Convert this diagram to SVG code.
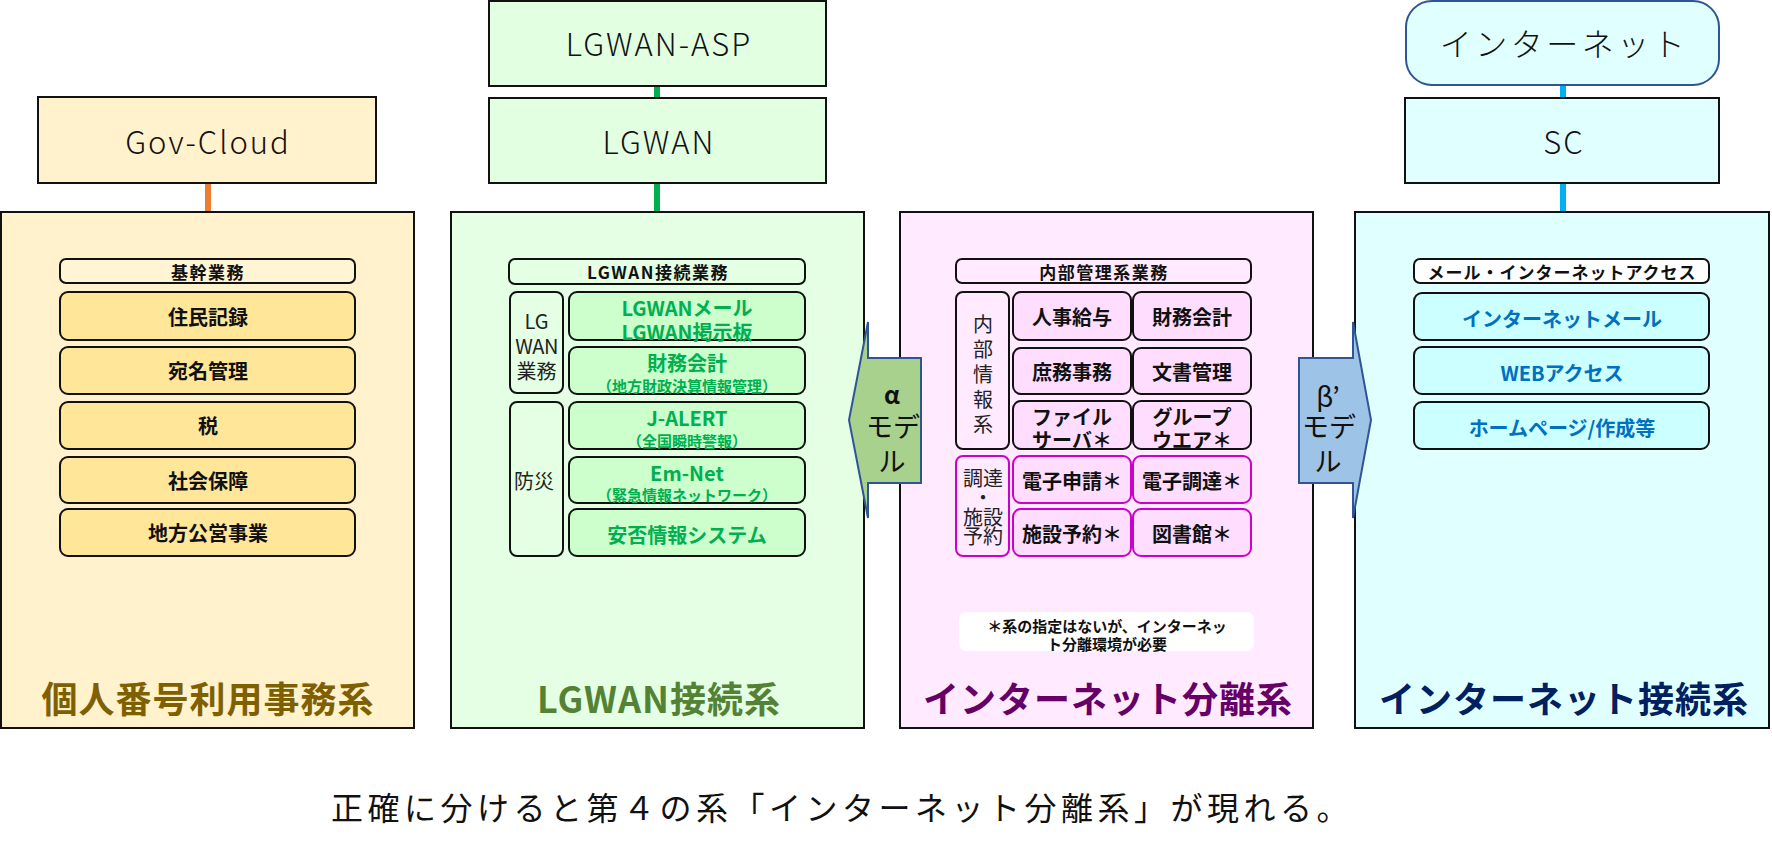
<svg xmlns="http://www.w3.org/2000/svg" width="1772" height="849" viewBox="0 0 1772 849">
<style>
text{font-family:"Noto Sans CJK JP","Noto Sans",sans-serif;dominant-baseline:central;text-anchor:middle}
.top{font-size:31px;font-weight:300;letter-spacing:2px;fill:#111}
.panel{stroke:#111;stroke-width:2}
.box{stroke:#111;stroke-width:2}
.hdr{font-size:17px;font-weight:bold;letter-spacing:1.5px;fill:#111}
.it{font-size:20px;font-weight:bold}
.sub{font-size:15px;font-weight:bold}
.lbl{font-size:20px;fill:#222}
.title{font-size:36px;font-weight:bold;letter-spacing:1px}
.mag{stroke:#CC00CC;stroke-width:2}
.arrowtxt{font-size:27px;fill:#111}
</style>
<rect width="1772" height="849" fill="#ffffff"/>

<g id="connectors" fill="none" stroke-width="6">
  <line x1="208" y1="183" x2="208" y2="213" stroke="#ED7D31"/>
  <line x1="657" y1="86" x2="657" y2="98" stroke="#00B050"/>
  <line x1="657" y1="183" x2="657" y2="212" stroke="#00B050"/>
  <line x1="1563" y1="85" x2="1563" y2="98" stroke="#00B0F0"/>
  <line x1="1563" y1="183" x2="1563" y2="212" stroke="#00B0F0"/>
</g>

<g id="gov-cloud">
  <rect x="38" y="97" width="338" height="86" fill="#FFF2CC" class="box"/>
  <text x="208" y="140" class="top">Gov-Cloud</text>
</g>
<g id="lgwan-asp">
  <rect x="489" y="1" width="337" height="85" fill="#E2FFE2" class="box"/>
  <text x="659" y="42" class="top">LGWAN-ASP</text>
</g>
<g id="lgwan">
  <rect x="489" y="98" width="337" height="85" fill="#E2FFE2" class="box"/>
  <text x="659" y="140" class="top">LGWAN</text>
</g>
<g id="internet">
  <rect x="1406" y="1" width="313" height="84" rx="26" fill="#E0FFFF" stroke="#2F5597" stroke-width="2"/>
  <text x="1564" y="42" class="top" style="font-size:32px;letter-spacing:3.5px">インターネット</text>
</g>
<g id="sc">
  <rect x="1405" y="98" width="314" height="85" fill="#E0FFFF" class="box"/>
  <text x="1564" y="140" class="top">SC</text>
</g>

<!-- Panel 1 -->
<g id="panel-kojin">
  <rect x="1" y="212" width="413" height="516" fill="#FFF2CC" class="panel"/>
  <rect x="60" y="259" width="295" height="24" rx="6" fill="#FFF4D4" class="box"/>
  <text x="208" y="271" class="hdr">基幹業務</text>
  <g fill="#FFE699" class="box">
    <rect x="60" y="292" width="295" height="48" rx="8"/>
    <rect x="60" y="347" width="295" height="47" rx="8"/>
    <rect x="60" y="402" width="295" height="47" rx="8"/>
    <rect x="60" y="457" width="295" height="46" rx="8"/>
    <rect x="60" y="509" width="295" height="47" rx="8"/>
  </g>
  <g class="it" fill="#111">
    <text x="208" y="316">住民記録</text>
    <text x="208" y="370.5">宛名管理</text>
    <text x="208" y="425.5">税</text>
    <text x="208" y="480">社会保障</text>
    <text x="208" y="532.5">地方公営事業</text>
  </g>
  <text x="208" y="697" class="title" fill="#7F6000">個人番号利用事務系</text>
</g>

<!-- Panel 2 -->
<g id="panel-lgwan">
  <rect x="451" y="212" width="413" height="516" fill="#E4FFE4" class="panel"/>
  <rect x="509" y="259" width="296" height="25" rx="6" fill="#E4FFE4" class="box"/>
  <text x="658" y="271.5" class="hdr">LGWAN接続業務</text>
  <rect x="510" y="292" width="53" height="101" rx="7" fill="#E4FFE4" class="box"/>
  <text class="lbl"><tspan x="536.5" y="320">LG</tspan><tspan x="536.5" y="345" style="letter-spacing:-0.5px">WAN</tspan><tspan x="536.5" y="370">業務</tspan></text>
  <rect x="510" y="402" width="53" height="154" rx="7" fill="#E4FFE4" class="box"/>
  <text x="534" y="480" class="lbl">防災</text>
  <g fill="#CCFFCC" class="box">
    <rect x="569" y="292" width="236" height="48" rx="8"/>
    <rect x="569" y="347" width="236" height="47" rx="8"/>
    <rect x="569" y="402" width="236" height="47" rx="8"/>
    <rect x="569" y="457" width="236" height="46" rx="8"/>
    <rect x="569" y="509" width="236" height="47" rx="8"/>
  </g>
  <g fill="#00B050">
    <text class="it"><tspan x="687" y="307">LGWANメール</tspan><tspan x="687" y="331">LGWAN掲示板</tspan></text>
    <text x="687" y="362" class="it">財務会計</text>
    <text x="687" y="385" class="sub">（地方財政決算情報管理）</text>
    <text x="687" y="417" class="it">J-ALERT</text>
    <text x="687" y="440" class="sub">（全国瞬時警報）</text>
    <text x="687" y="472" class="it">Em-Net</text>
    <text x="687" y="494" class="sub">（緊急情報ネットワーク）</text>
    <text x="687" y="534" class="it">安否情報システム</text>
  </g>
  <text x="659" y="697" class="title" fill="#548235">LGWAN接続系</text>
</g>

<!-- Panel 3 -->
<g id="panel-bunri">
  <rect x="900" y="212" width="413" height="516" fill="#FFEAFF" class="panel"/>
  <rect x="956" y="259" width="295" height="24" rx="6" fill="#FFEAFF" class="box"/>
  <text x="1104" y="271" class="hdr">内部管理系業務</text>
  <rect x="956" y="292" width="53" height="157" rx="7" fill="#FFEAFF" class="box"/>
  <text class="lbl"><tspan x="983" y="323">内</tspan><tspan x="983" y="348">部</tspan><tspan x="983" y="373">情</tspan><tspan x="983" y="398">報</tspan><tspan x="983" y="423">系</tspan></text>
  <rect x="956" y="456" width="53" height="100" rx="7" fill="#FFEAFF" class="mag"/>
  <text class="lbl"><tspan x="983" y="477">調達</tspan><tspan x="983" y="496">・</tspan><tspan x="983" y="516">施設</tspan><tspan x="983" y="535">予約</tspan></text>
  <g fill="#FFDDFF" class="box">
    <rect x="1013" y="292" width="118" height="48" rx="8"/>
    <rect x="1133" y="292" width="118" height="48" rx="8"/>
    <rect x="1013" y="348" width="118" height="46" rx="8"/>
    <rect x="1133" y="348" width="118" height="46" rx="8"/>
    <rect x="1013" y="401" width="118" height="48" rx="8"/>
    <rect x="1133" y="401" width="118" height="48" rx="8"/>
  </g>
  <g fill="#FFDDFF" class="mag">
    <rect x="1013" y="456" width="118" height="47" rx="8"/>
    <rect x="1133" y="456" width="118" height="47" rx="8"/>
    <rect x="1013" y="509" width="118" height="47" rx="8"/>
    <rect x="1133" y="509" width="118" height="47" rx="8"/>
  </g>
  <g class="it" fill="#111">
    <text x="1072" y="316">人事給与</text>
    <text x="1192" y="316">財務会計</text>
    <text x="1072" y="371">庶務事務</text>
    <text x="1192" y="371">文書管理</text>
    <text><tspan x="1072" y="416">ファイル</tspan><tspan x="1072" y="439">サーバ＊</tspan></text>
    <text><tspan x="1192" y="416">グループ</tspan><tspan x="1192" y="439">ウエア＊</tspan></text>
    <text x="1072" y="480">電子申請＊</text>
    <text x="1192" y="480">電子調達＊</text>
    <text x="1072" y="533">施設予約＊</text>
    <text x="1192" y="533">図書館＊</text>
  </g>
  <rect x="959" y="612" width="295" height="39" rx="7" fill="#ffffff"/>
  <text style="font-size:15px;font-weight:bold" fill="#111"><tspan x="1107" y="625">＊系の指定はないが、インターネッ</tspan><tspan x="1107" y="643">ト分離環境が必要</tspan></text>
  <text x="1108" y="697" class="title" fill="#660066">インターネット分離系</text>
</g>

<!-- Panel 4 -->
<g id="panel-internet">
  <rect x="1355" y="212" width="414" height="516" fill="#E0FFFF" class="panel"/>
  <rect x="1414" y="259" width="295" height="24" rx="6" fill="#ffffff" class="box"/>
  <text x="1562" y="271" class="hdr" style="letter-spacing:1px">メール・インターネットアクセス</text>
  <g fill="#CCFFFF" class="box">
    <rect x="1414" y="293" width="295" height="47" rx="8"/>
    <rect x="1414" y="347" width="295" height="47" rx="8"/>
    <rect x="1414" y="402" width="295" height="47" rx="8"/>
  </g>
  <g class="it" fill="#0070C0">
    <text x="1562" y="318">インターネットメール</text>
    <text x="1562" y="372">WEBアクセス</text>
    <text x="1562" y="427">ホームページ/作成等</text>
  </g>
  <text x="1564" y="697" class="title" fill="#002060">インターネット接続系</text>
</g>

<!-- α model arrow -->
<g id="alpha-model">
  <path d="M849,420 L868,322 L868,358 L921,358 L921,483 L868,483 L868,518 Z" fill="#A9D18E" stroke="#2F5597" stroke-width="2"/>
  <text class="arrowtxt"><tspan x="892" y="393" style="font-size:24px;font-weight:bold">α</tspan><tspan x="893" y="425">モデ</tspan><tspan x="892" y="460">ル</tspan></text>
</g>

<!-- β' model arrow -->
<g id="beta-model">
  <path d="M1299,358 L1353,358 L1353,322 L1371,420 L1353,518 L1353,483 L1299,483 Z" fill="#9DC3E6" stroke="#2F5597" stroke-width="2"/>
  <text class="arrowtxt"><tspan x="1328" y="395">β’</tspan><tspan x="1329" y="425">モデ</tspan><tspan x="1328" y="460">ル</tspan></text>
</g>

<text id="caption" x="842" y="806" style="font-size:32px;letter-spacing:4.5px" fill="#111">正確に分けると第４の系「インターネット分離系」が現れる。</text>
</svg>
